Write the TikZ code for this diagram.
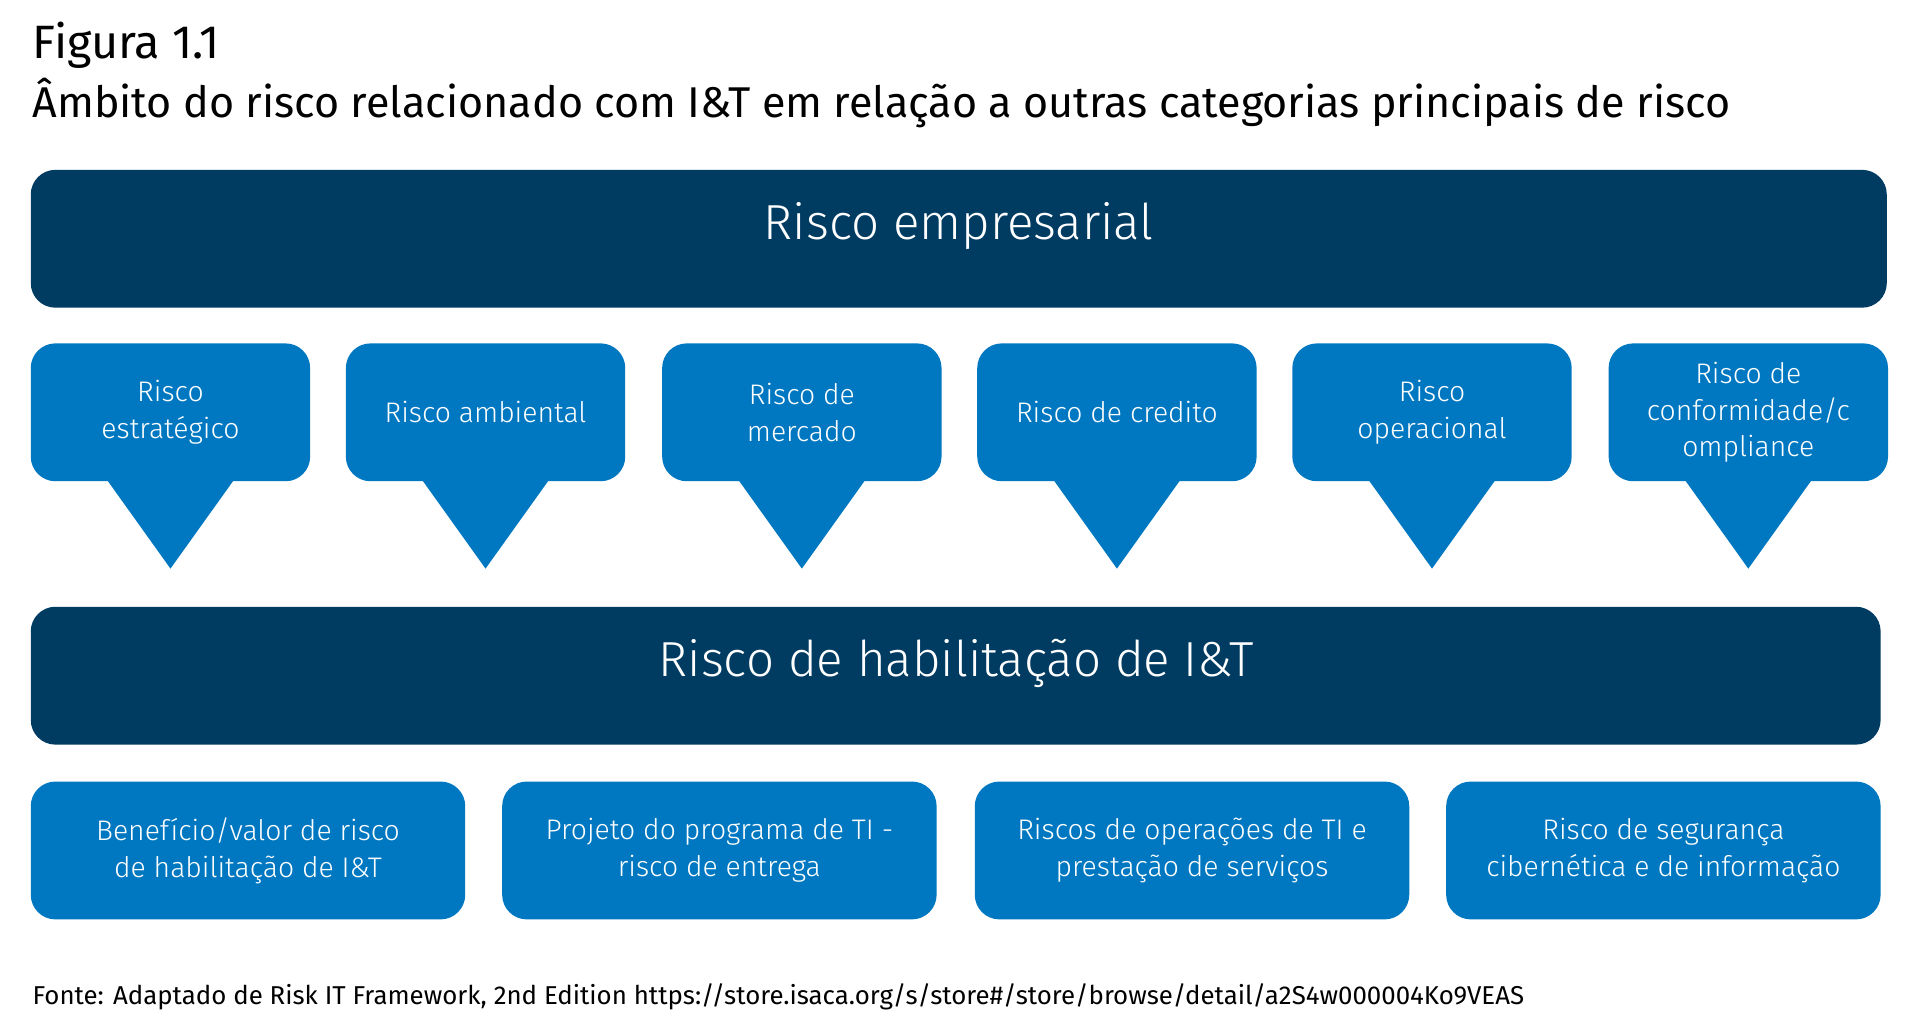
\documentclass[tikz,border=0pt]{standalone}
\usepackage{fontspec}
\setmainfont{Fira Sans}
\newfontfamily\lightf{Fira Sans Light}
\definecolor{navy}{HTML}{003B62}
\definecolor{blu}{HTML}{0078C1}
\begin{document}
\begin{tikzpicture}[x=1pt,y=-1pt,
  bar/.style={fill=navy,rounded corners=20pt},
  bx/.style={fill=blu,rounded corners=20pt},
  btxt/.style={text=white,font=\lightf\fontsize{23}{30}\selectfont,align=center},
  bigt/.style={text=white,font=\lightf\fontsize{40}{46}\selectfont}]
\useasboundingbox (0,0) rectangle (1560,834);
\node[anchor=west,font=\fontsize{38}{44}\selectfont] (t1) at (23,37) {Figura 1.1};
\node[anchor=west,font=\fontsize{35}{42}\selectfont] (t2) at (23,84) {Âmbito do risco relacionado com I\&T em relação a outras categorias principais de risco};
\fill[bar] (25,138) rectangle (1533,250);
\node[bigt] (top) at (779,184) {Risco empresarial};
\foreach \l/\t [count=\i] in {25/{Risco\\estratégico},281/{Risco ambiental},538/{Risco de\\mercado},794/{Risco de credito},1050/{Risco\\operacional},1307/{Risco de\\conformidade/c\\ompliance}}{
  \fill[bx] (\l,279) rectangle (\l+227,391);
  \fill[blu] (\l+62,390) -- (\l+113.5,462) -- (\l+165,390) -- cycle;
  \node[btxt] (c\i) at (\l+113.5,335) {\t};
}
\fill[bar] (25,493) rectangle (1528,605);
\node[bigt] (mid) at (777,539) {Risco de habilitação de I\&T};
\foreach \l/\t [count=\i] in {25/{Benefício/valor de risco\\de habilitação de I\&T},408/{Projeto do programa de TI -\\risco de entrega},792/{Riscos de operações de TI e\\prestação de serviços},1175/{Risco de segurança\\cibernética e de informação}}{
  \fill[bx] (\l,635) rectangle (\l+353,747);
  \node[btxt] (b\i) at (\l+176.5,691) {\t};
}
\node[anchor=west,font=\fontsize{21}{26}\selectfont] (f) at (23,810) {Fonte: Adaptado de Risk IT Framework, 2nd Edition https://store.isaca.org/s/store\#/store/browse/detail/a2S4w000004Ko9VEAS};
\end{tikzpicture}
\end{document}
